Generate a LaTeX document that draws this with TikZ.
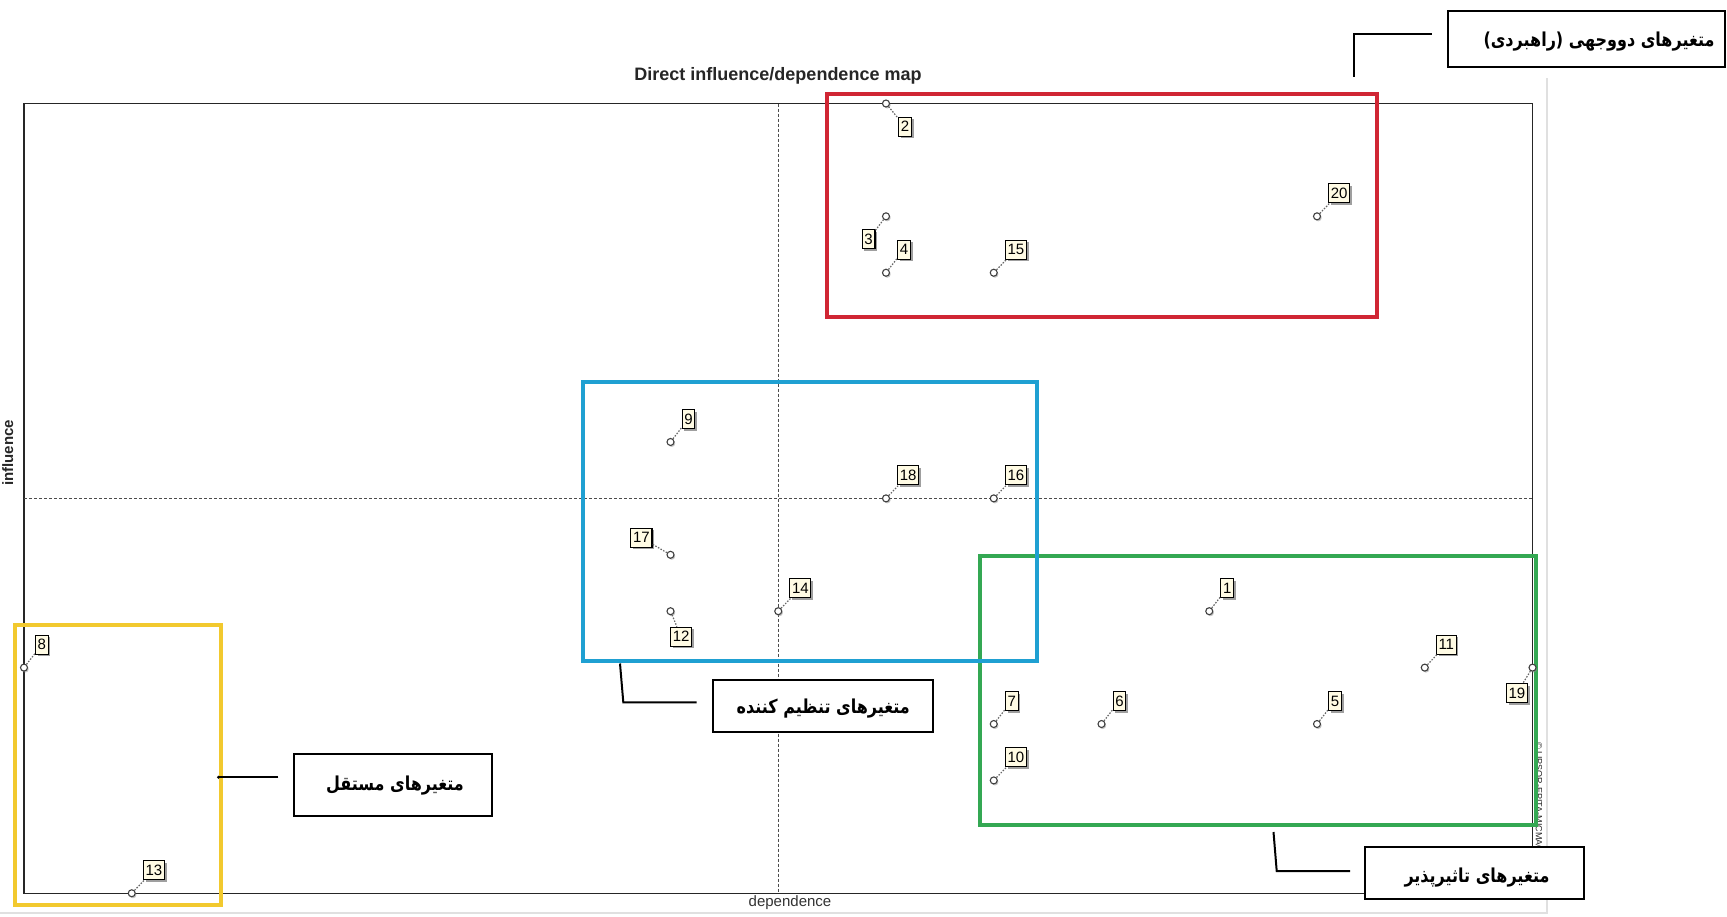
\documentclass[tikz,border=0pt]{standalone}
\usepackage{graphicx}
\usepackage{fontspec}
\setmainfont{Liberation Sans}
\newfontfamily\fa[Script=Arabic]{DejaVu Sans}
\TeXXeTstate=1
\usetikzlibrary{shadows}
\definecolor{cream}{RGB}{255,251,228}
\definecolor{gred}{RGB}{208,38,52}
\definecolor{gblue}{RGB}{31,160,210}
\definecolor{ggreen}{RGB}{52,168,83}
\definecolor{gyellow}{RGB}{242,201,46}
\newcommand\mapPt[5]{%
  \node[ptc] (p#1) at ({24+107.75*#2},{103.5+56.41*#3}) {};
  \node[lab, anchor=#4] (l#1) at ([shift={(#5)}]p#1) {#1};
  \draw[lead] (p#1) -- (l#1);
}
\newcommand\faText[1]{\scalebox{1}[1.2]{\beginR #1\endR}}
\begin{document}
\begin{tikzpicture}[x=1pt,y=-1pt,
  ptc/.style={circle, draw=black!75, fill=white, line width=1.1pt, minimum size=7pt, inner sep=0pt,
    drop shadow={shadow xshift=1.2pt, shadow yshift=-1.5pt, fill=black!45}},
  lab/.style={draw=black, line width=1.1pt, fill=cream, font=\fontsize{15}{15}\selectfont,
    inner xsep=2.2pt, inner ysep=0pt, minimum height=19pt, minimum width=12.5pt,
    drop shadow={shadow xshift=2.2pt, shadow yshift=-2.2pt, fill=black!50, opacity=0.75}},
  lead/.style={black!60, line width=1.2pt, dash pattern=on 1.5pt off 1.5pt},
  grp/.style={line width=4pt},
  callbox/.style={draw=black, line width=2pt, fill=white},
  calltext/.style={font=\fa\bfseries\fontsize{16}{20}\selectfont},
  callline/.style={black, line width=2pt}]
\useasboundingbox (0,0) rectangle (1727,916);
\fill[white] (0,0) rectangle (1727,916);
% window border
\draw[black!12, line width=2pt] (0,913) -- (1547,913) -- (1547,78);
% plot frame
\draw[black!85, line width=1.3pt] (24,103.5) rectangle (1532.5,893.3);
\draw[black!70, line width=0.9pt, dash pattern=on 3pt off 2pt] (778,103.5) -- (778,893.3);
\draw[black!70, line width=0.9pt, dash pattern=on 3pt off 2pt] (24,498) -- (1532.5,498);
% titles
\node[font=\bfseries\fontsize{18}{20}\selectfont, text=black!85] (title) at (778,76) {Direct influence/dependence map};
\node[font=\fontsize{15}{16}\selectfont, text=black!80] (xlab) at (790,903) {dependence};
\node[rotate=90, anchor=base, font=\bfseries\fontsize{15}{16}\selectfont, text=black!85] (ylab) at (13,453) {influence};
\node[rotate=-90, font=\fontsize{9}{10}\selectfont, text=black!85] (wm) at (1539,797) {\textcopyright{} LIPSOR-EPITA-MICMAC};
% groups
\draw[grp, gyellow] (15,625) rectangle (221,904.5);
\draw[grp, gred] (827,93.5) rectangle (1377,317);
\draw[grp, ggreen] (979.5,555.5) rectangle (1536,825);
\draw[grp, gblue] (582.7,382.3) rectangle (1037,660.5);
% points
\mapPt{1}{11}{9}{south west}{11,-13}
\mapPt{2}{8}{0}{north west}{12,13}
\mapPt{3}{8}{2}{north east}{-10.5,13}
\mapPt{4}{8}{3}{south west}{11,-13}
\mapPt{5}{12}{11}{south west}{11,-13}
\mapPt{6}{10}{11}{south west}{11,-13}
\mapPt{7}{9}{11}{south west}{11,-13}
\mapPt{8}{0}{10}{south west}{11,-13}
\mapPt{9}{6}{6}{south west}{11,-13}
\mapPt{10}{9}{12}{south west}{11,-13}
\mapPt{11}{13}{10}{south west}{11,-13}
\mapPt{12}{6}{9}{north west}{-0.5,15.5}
\mapPt{13}{1}{14}{south west}{11,-13}
\mapPt{14}{7}{9}{south west}{11,-13}
\mapPt{15}{9}{3}{south west}{11,-13}
\mapPt{16}{9}{7}{south west}{11,-13}
\mapPt{17}{6}{8}{south east}{-18,-7}
\mapPt{18}{8}{7}{south west}{11,-13}
\mapPt{19}{14}{10}{north east}{-4.5,15.5}
\mapPt{20}{12}{2}{south west}{11,-13}
% callouts
\node[callbox, minimum width=277pt, minimum height=56pt] (cRed) at (1586,39) {};
\node[calltext] (tRed) at (1599,42) {\faText{متغیرهای دووجهی (راهبردی)}};
\coordinate (r1) at (1431.8,34);
\coordinate (r2) at (1353.5,34);
\coordinate (r3) at (1353.5,77);
\draw[callline] (r1) -- (r2) -- (r3);

\node[callbox, minimum width=220pt, minimum height=52pt] (cBlue) at (822.6,705.8) {};
\node[calltext] (tBlue) at (823.3,709) {\faText{متغیرهای تنظیم کننده}};
\coordinate (b1) at (696.7,702.3);
\coordinate (b2) at (623.3,702.3);
\coordinate (b3) at (620,663.5);
\draw[callline] (b1) -- (b2) -- (b3);

\node[callbox, minimum width=198pt, minimum height=62pt] (cYel) at (393.4,785.2) {};
\node[calltext] (tYel) at (395,785.5) {\faText{متغیرهای مستقل}};
\coordinate (y1) at (278.3,777.3);
\coordinate (y2) at (218.5,777.3);
\draw[callline] (y1) -- (y2);
\fill[black] (y2) circle (1.6pt);

\node[callbox, minimum width=219pt, minimum height=52pt] (cGrn) at (1474.5,873.3) {};
\node[calltext] (tGrn) at (1477,878) {\faText{متغیرهای تاثیرپذیر}};
\coordinate (g1) at (1350,871);
\coordinate (g2) at (1276.7,871);
\coordinate (g3) at (1273.5,832);
\draw[callline] (g1) -- (g2) -- (g3);
\end{tikzpicture}
\end{document}
